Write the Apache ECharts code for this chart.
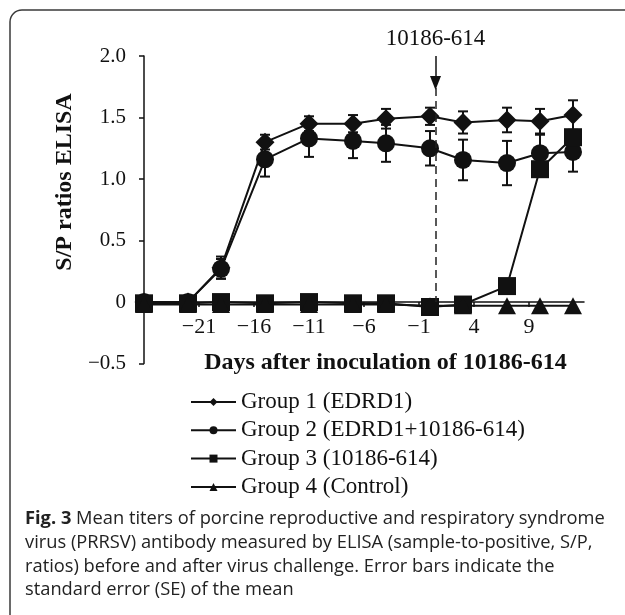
<!DOCTYPE html>
<html><head><meta charset="utf-8">
<script src="https://cdn.jsdelivr.net/npm/echarts@6/dist/echarts.min.js"></script>
<style>html,body{margin:0;padding:0;background:#fff}#c{width:625px;height:615px}</style>
</head><body><div id="c"></div>
<script>
const days = [-26, -22, -19, -15, -11, -7, -4, 0, 3, 7, 10, 13];
const g1 = [0.00, 0.00, 0.28, 1.30, 1.45, 1.45, 1.49, 1.51, 1.46, 1.48, 1.47, 1.52];
const g1se = [0.01, 0.01, 0.09, 0.06, 0.06, 0.07, 0.08, 0.07, 0.09, 0.10, 0.10, 0.12];
const g2 = [0.00, 0.00, 0.27, 1.16, 1.33, 1.31, 1.29, 1.25, 1.155, 1.13, 1.21, 1.22];
const g2se = [0.01, 0.01, 0.08, 0.14, 0.15, 0.14, 0.15, 0.14, 0.165, 0.18, 0.15, 0.16];
const g3 = [-0.01, -0.01, 0.00, -0.01, 0.00, -0.01, -0.01, -0.04, -0.02, 0.13, 1.08, 1.34];
const g4 = [-0.02, -0.02, -0.02, -0.02, -0.02, -0.02, -0.02, -0.03, -0.03, -0.03, -0.03, -0.03];
const groupNames = ['Group 1 (EDRD1)', 'Group 2 (EDRD1+10186-614)', 'Group 3 (10186-614)', 'Group 4 (Control)'];
const challengeDay = 0.5;
const challengeLabel = '10186-614';
const arrowTop = 2.0, arrowTip = 1.78, dashTop = 1.74;
const xTitle = 'Days after inoculation of 10186-614';
const yTitle = 'S/P ratios ELISA';
const captionLines = [
  '{b|Fig. 3} Mean titers of porcine reproductive and respiratory syndrome',
  'virus (PRRSV) antibody measured by ELISA (sample-to-positive, S/P,',
  'ratios) before and after virus challenge. Error bars indicate the',
  'standard error (SE) of the mean'
];

const SERIF = '"Liberation Serif", "Times New Roman", serif';
const INK = '#111';
const minus = v => (v < 0 ? '\u2212' + Math.abs(v) : String(v));

const Y_MIN = -0.5, Y_MAX = 2.0;
const GRID_TOP = 56, GRID_H = 307.6;

function errSeries(name, vals, se) {
  return {
    type: 'custom', name: name, silent: true,
    data: days.map((d, i) => [d, vals[i] - se[i], vals[i] + se[i]]),
    encode: { x: 0, y: [1, 2] },
    renderItem: function (params, api) {
      const lo = api.coord([api.value(0), api.value(1)]);
      const hi = api.coord([api.value(0), api.value(2)]);
      const w = 5, st = { stroke: INK, lineWidth: 2 };
      return { type: 'group', children: [
        { type: 'line', shape: { x1: lo[0], y1: lo[1], x2: hi[0], y2: hi[1] }, style: st },
        { type: 'line', shape: { x1: lo[0] - w, y1: lo[1], x2: lo[0] + w, y2: lo[1] }, style: st },
        { type: 'line', shape: { x1: hi[0] - w, y1: hi[1], x2: hi[0] + w, y2: hi[1] }, style: st }
      ] };
    }
  };
}
function lineSeries(name, vals, symbol, size) {
  return {
    type: 'line', name: name, data: days.map((d, i) => [d, vals[i]]),
    symbol: symbol, symbolSize: size, showAllSymbol: true,
    lineStyle: { color: INK, width: 2 },
    itemStyle: { color: INK, borderColor: INK, borderWidth: 0 },
    emphasis: { disabled: true }
  };
}

const s4 = lineSeries(groupNames[3], g4, 'triangle', [18, 17]);
s4.markLine = {
  silent: true, animation: false,
  lineStyle: { color: INK, width: 1.5, type: 'solid' },
  label: { show: false },
  data: [
    [
      { coord: [challengeDay, arrowTop], symbol: 'none',
        label: { show: true, position: 'start', formatter: challengeLabel, distance: 6,
                 color: INK, fontFamily: SERIF, fontSize: 23 } },
      { coord: [challengeDay, arrowTip], symbol: 'triangle', symbolSize: [11, 14] }
    ],
    [
      { coord: [challengeDay, dashTop], symbol: 'none', lineStyle: { type: [8, 5], width: 1.5, color: '#222' } },
      { coord: [challengeDay, 0], symbol: 'none' }
    ]
  ]
};

// x axis sits on y = 0: shift it up from the grid bottom by the pixel height of (0 - Y_MIN)
const xOffset = -GRID_H * (0 - Y_MIN) / (Y_MAX - Y_MIN);

const chart = echarts.init(document.getElementById('c'), null, { renderer: 'canvas' });
chart.setOption({
  animation: false,
  backgroundColor: '#fff',
  grid: { left: 144, right: 41, top: GRID_TOP, height: GRID_H, containLabel: false },
  xAxis: {
    type: 'value', min: -26, max: 14, interval: 5,
    position: 'bottom', offset: xOffset,
    axisLine: { onZero: false, lineStyle: { color: INK, width: 1.5 } },
    axisTick: { show: true, length: 5, lineStyle: { color: INK, width: 1.5 } },
    axisLabel: { showMinLabel: false, showMaxLabel: false, formatter: minus, margin: 14,
                 color: INK, fontFamily: SERIF, fontSize: 22 },
    splitLine: { show: false }
  },
  yAxis: {
    type: 'value', min: Y_MIN, max: Y_MAX, interval: 0.5,
    axisLine: { show: true, onZero: false, lineStyle: { color: INK, width: 1.5 } },
    axisTick: { show: true, length: 5, lineStyle: { color: INK, width: 1.5 } },
    axisLabel: { margin: 18, color: INK, fontFamily: SERIF, fontSize: 21,
                 formatter: v => (v === 0 ? '0' : (v < 0 ? '\u2212' + Math.abs(v).toFixed(1) : v.toFixed(1))) },
    splitLine: { show: false }
  },
  legend: {
    data: groupNames, orient: 'vertical', left: 190, top: 390, padding: 0,
    itemWidth: 45, itemHeight: 10, itemGap: 4.3,
    selectedMode: false,
    textStyle: { color: INK, fontFamily: SERIF, fontSize: 23, lineHeight: 24 }
  },
  series: [
    errSeries('err1', g1, g1se),
    lineSeries(groupNames[0], g1, 'diamond', 19),
    errSeries('err2', g2, g2se),
    lineSeries(groupNames[1], g2, 'circle', 18),
    lineSeries(groupNames[2], g3, 'rect', 18),
    s4
  ],
  graphic: [
    { type: 'rect', silent: true, shape: { x: 10, y: 10, width: 640, height: 640, r: 12 },
      style: { fill: 'none', stroke: '#3a3a3a', lineWidth: 1.5 } },
    { type: 'text', silent: true, x: 385.5, y: 362.5,
      style: { text: xTitle, font: 'bold 24px ' + SERIF, fill: INK, textAlign: 'center', textVerticalAlign: 'middle' } },
    { type: 'text', silent: true, x: 65, y: 182, rotation: Math.PI / 2,
      style: { text: yTitle, font: 'bold 24px ' + SERIF, fill: INK, textAlign: 'center', textVerticalAlign: 'middle' } },
    { type: 'text', silent: true, x: 25, y: 507.2,
      style: { text: captionLines.join('\n'), font: '18.3px "Open Sans"', fill: '#222', lineHeight: 23.7,
               textAlign: 'left', textVerticalAlign: 'top',
               rich: { b: { font: 'bold 18.3px "Open Sans"', fill: '#222', lineHeight: 23.7 } } } }
  ]
});
</script></body></html>
